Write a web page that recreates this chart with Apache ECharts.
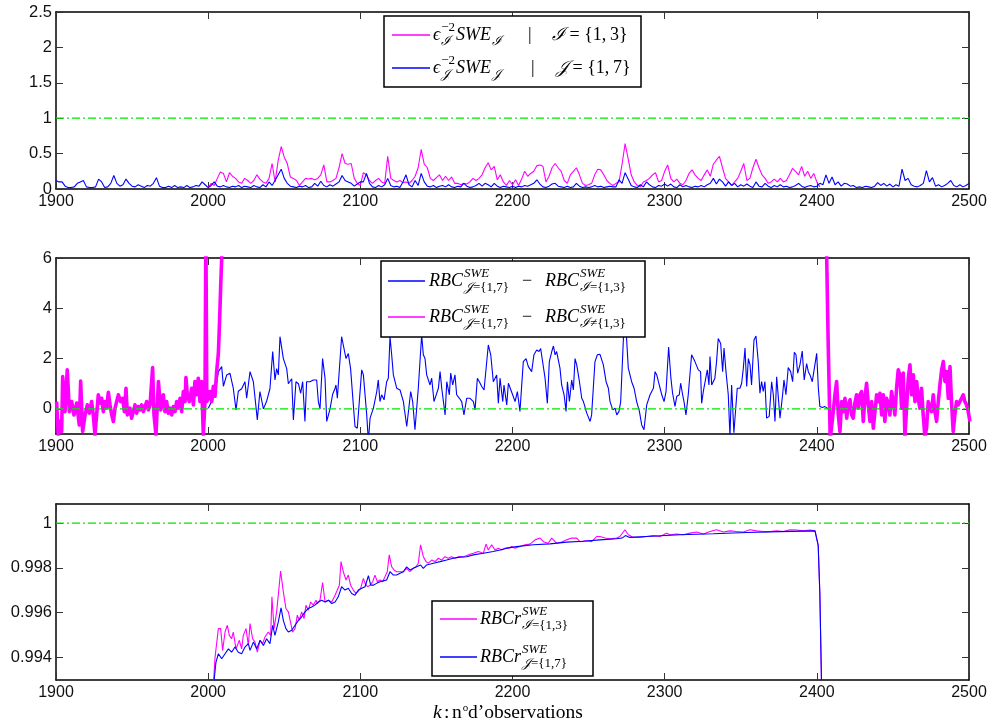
<!DOCTYPE html>
<html><head><meta charset="utf-8">
<script src="https://cdn.jsdelivr.net/npm/echarts@6/dist/echarts.min.js"></script>
<style>html,body{margin:0;padding:0;background:#fff}#c{width:995px;height:727px}</style>
</head><body><div id="c"></div>
<script>
// ---------------- data ----------------
const xMin = 1900, xMax = 2500, xStep = 100;
const topYRange = [0, 2.5], topYStep = 0.5;
const midYRange = [-1, 6], midTicks = [0, 2, 4, 6];
const botYRange = [0.993, 1.00085], botTicks = [0.994, 0.996, 0.998, 1];
const refLines = [1, 0, 1];

// top panel: observation k = start + 2*i
const topJStart = 1900, topIStart = 2000, topStep = 2;
const topJ = [
0.12,0.10,0.10,0.04,0.02,0.02,0.03,0.08,0.10,0.12,
0.03,0.02,0.02,0.03,0.14,0.10,0.02,0.03,0.08,0.19,
0.08,0.04,0.06,0.14,0.08,0.04,0.03,0.06,0.04,0.02,
0.05,0.04,0.08,0.16,0.04,0.02,0.02,0.04,0.02,0.05,
0.02,0.03,0.02,0.05,0.02,0.03,0.05,0.04,0.10,0.06,
0.02,
0.05,0.10,0.04,0.03,0.05,0.03,0.02,0.04,0.03,0.05,
0.02,0.04,0.03,0.02,0.05,0.03,0.02,0.06,0.03,0.10,
0.05,0.12,0.20,0.28,0.15,0.08,0.04,0.03,0.02,0.04,
0.03,0.05,0.02,0.03,0.08,0.04,0.11,0.05,0.03,0.06,
0.04,0.07,0.10,0.19,0.12,0.10,0.08,0.04,0.07,0.10,
0.10,0.22,0.08,0.03,0.02,0.05,0.03,0.06,0.15,0.05,
0.03,0.04,0.02,0.10,0.20,0.06,0.03,0.12,0.05,0.22,
0.10,0.04,0.03,0.05,0.02,0.04,0.05,0.03,0.06,0.03,
0.02,0.04,0.03,0.08,0.04,0.02,0.03,0.05,0.08,0.04,
0.08,0.06,0.03,0.08,0.04,0.02,0.04,0.03,0.02,0.04,
0.02,0.04,0.03,0.05,0.04,0.06,0.08,0.13,0.07,0.03,
0.02,0.04,0.07,0.08,0.04,0.03,0.02,0.04,0.02,0.03,
0.08,0.04,0.02,0.03,0.02,0.03,0.05,0.03,0.04,0.02,
0.03,0.04,0.03,0.03,0.13,0.08,0.23,0.14,0.05,0.03,
0.02,0.06,0.03,0.10,0.06,0.03,0.02,0.05,0.04,0.07,
0.04,0.07,0.03,0.02,0.06,0.03,0.05,0.03,0.02,0.04,
0.03,0.05,0.03,0.06,0.08,0.15,0.07,0.14,0.10,0.04,
0.10,0.05,0.08,0.03,0.06,0.04,0.07,0.04,0.02,0.10,
0.04,0.03,0.08,0.04,0.02,0.05,0.03,0.06,0.03,0.04,
0.02,0.03,0.05,0.08,0.04,0.02,0.04,0.05,0.03,0.04,
0.08,0.06,0.20,0.08,0.17,0.06,0.10,0.04,0.08,0.07,
0.04,0.05,0.02,0.03,0.02,0.04,0.03,0.02,0.04,0.09,
0.05,0.08,0.04,0.07,0.03,0.06,0.04,0.28,0.12,0.15,
0.06,0.04,0.03,0.05,0.08,0.26,0.10,0.16,0.04,0.06,
0.03,0.05,0.08,0.12,0.05,0.03,0.06,0.03,0.05,0.08
];
const topI = [
0.02,0.08,0.05,0.15,0.24,0.22,0.10,0.23,0.18,0.15,
0.10,0.08,0.15,0.12,0.08,0.12,0.20,0.14,0.10,0.08,
0.15,0.36,0.10,0.40,0.60,0.45,0.36,0.17,0.15,0.12,
0.05,0.10,0.15,0.14,0.15,0.13,0.15,0.20,0.34,0.10,
0.10,0.12,0.15,0.30,0.50,0.36,0.35,0.36,0.15,0.08,
0.05,0.23,0.20,0.12,0.08,0.12,0.15,0.10,0.08,0.46,
0.15,0.12,0.10,0.12,0.09,0.10,0.08,0.12,0.18,0.30,
0.56,0.35,0.30,0.15,0.12,0.16,0.20,0.12,0.18,0.12,
0.17,0.08,0.08,0.06,0.08,0.07,0.10,0.15,0.12,0.15,
0.20,0.30,0.37,0.27,0.32,0.13,0.20,0.10,0.05,0.12,
0.06,0.13,0.05,0.14,0.25,0.18,0.22,0.25,0.33,0.34,
0.32,0.10,0.18,0.30,0.36,0.30,0.25,0.12,0.08,0.20,
0.25,0.30,0.20,0.08,0.05,0.06,0.08,0.20,0.28,0.27,
0.20,0.12,0.08,0.05,0.08,0.10,0.35,0.64,0.43,0.20,
0.10,0.05,0.03,0.10,0.12,0.15,0.20,0.23,0.10,0.12,
0.25,0.34,0.15,0.10,0.14,0.08,0.06,0.12,0.22,0.27,
0.20,0.15,0.12,0.20,0.27,0.18,0.35,0.41,0.46,0.30,
0.15,0.10,0.05,0.10,0.15,0.25,0.36,0.12,0.15,0.30,
0.42,0.30,0.20,0.15,0.08,0.10,0.14,0.10,0.15,0.10,
0.12,0.20,0.29,0.25,0.20,0.32,0.18,0.25,0.15,0.22,
0.10,0.03
];

// middle panel: [k, value]
const midBlue = [[2000.1,0.02],[2002.3,0.3],[2004.5,0.55],[2006.7,1.48],[2008.9,1.68],[2010,0.9],[2012.2,1.35],[2014.3,1.42],[2016.5,0.82],[2018.3,-0.04],[2019.8,0.7],[2022,0.8],[2024.2,1.08],[2025.3,0.42],[2027.5,1.48],[2029.7,1.08],[2032.3,-0.44],[2034,0.69],[2036.3,0.0],[2038.4,0.3],[2040.6,0.8],[2042.4,2.28],[2043.9,1.15],[2045,1.6],[2046.1,1.35],[2047.2,2.87],[2049.4,2.0],[2051.6,1.6],[2052.7,1.0],[2054.9,1.2],[2056,-0.44],[2057.7,1.08],[2059.3,1.0],[2060.8,0.62],[2062.1,1.08],[2063.6,-0.5],[2064.7,1.08],[2066.9,1.08],[2069.1,1.15],[2071.3,1.15],[2072.4,0.29],[2073.5,0.0],[2075.2,2.0],[2076.8,1.22],[2077.9,-0.5],[2080.1,0.0],[2081.8,0.58],[2083.4,0.82],[2084,0.95],[2084.9,0.42],[2087.7,2.87],[2088.8,2.54],[2090.6,2.0],[2092.1,2.2],[2093.6,1.6],[2095.4,0.16],[2096.5,-0.7],[2098,-0.77],[2100.9,1.55],[2102,1.35],[2104.2,-0.24],[2105.3,-1.3],[2106.4,-0.37],[2108.6,0.03],[2110.8,0.69],[2111.8,1.15],[2112.9,0.29],[2114,0.56],[2115.6,0.36],[2117.3,1.08],[2118.4,1.22],[2119.5,2.87],[2120.6,2.15],[2121.7,1.35],[2123.9,0.82],[2125,0.89],[2126.1,0.75],[2127.2,0.82],[2128.3,0.29],[2130.5,-0.7],[2131.6,-0.64],[2133.1,0.69],[2134.4,0.29],[2135.9,-0.83],[2138.1,0.82],[2140.3,2.94],[2141.4,2.15],[2142.5,2.0],[2143.6,1.35],[2145.8,0.95],[2146.9,1.22],[2148.4,0.29],[2149.7,0.29],[2151.3,0.82],[2152.4,1.48],[2153.5,0.82],[2155.7,-0.24],[2156.8,1.08],[2158.5,0.56],[2159.4,1.42],[2160.7,0.95],[2162.2,1.35],[2163.3,0.56],[2165.1,0.42],[2166.6,0.29],[2168.1,-0.24],[2169.9,0.42],[2172.1,0.42],[2174.3,0.29],[2175.4,-0.04],[2176.9,1.22],[2178.2,1.08],[2179.8,0.89],[2181.3,0.75],[2182.4,0.82],[2184.1,2.54],[2185.7,2.15],[2187.4,1.08],[2189.6,1.35],[2190.7,0.22],[2191.8,1.22],[2193.6,0.29],[2194.4,0.95],[2196.2,0.16],[2197.3,1.02],[2198.4,0.95],[2200.1,0.56],[2201.7,0.29],[2203.2,0.69],[2204.9,-0.1],[2207.1,1.88],[2208.9,2.0],[2210.4,1.68],[2212.6,1.48],[2214.1,2.15],[2215.9,2.34],[2217.4,2.28],[2218.5,2.4],[2219.8,2.34],[2221.4,1.22],[2222.9,0.22],[2224.2,1.88],[2225.8,2.28],[2226.9,2.5],[2228,2.15],[2229,2.28],[2231.2,1.62],[2232.3,0.95],[2233.9,0.56],[2235.2,-0.1],[2236.1,1.08],[2237.4,0.29],[2238.9,1.15],[2240,0.75],[2241.1,2.0],[2242.2,1.75],[2244,1.08],[2245.5,0.42],[2246.6,0.29],[2248.8,-0.17],[2251,-0.5],[2252,-0.24],[2254.2,1.88],[2255.8,2.15],[2257.5,2.17],[2259.7,1.75],[2261.5,1.08],[2263,0.82],[2264.1,0.29],[2265.9,-0.04],[2267.4,0.03],[2268.5,-0.24],[2270,-0.1],[2271.1,0.29],[2272.9,2.81],[2274.4,3.4],[2276.1,1.62],[2278.3,1.08],[2279.9,0.82],[2281.6,0.29],[2283.4,-0.1],[2284.9,-0.64],[2286.4,-0.83],[2288.2,0.16],[2290.4,0.56],[2292.6,0.82],[2293.7,1.48],[2294.8,1.35],[2295.9,1.08],[2297,0.82],[2298.1,0.56],[2299.6,0.29],[2300.9,0.69],[2302.6,2.46],[2304.1,1.22],[2305.2,0.62],[2306.8,0.1],[2307.9,0.49],[2309.6,0.56],[2310.5,1.02],[2311.8,0.56],[2312.7,0.29],[2314,-0.24],[2315.5,0.56],[2317.7,2.15],[2319.9,1.88],[2322.1,1.55],[2323.6,1.48],[2324.3,0.22],[2325.4,0.69],[2326.5,0.75],[2328,1.55],[2329.1,0.95],[2329.8,2.08],[2330.9,0.95],[2332,0.95],[2333,1.22],[2334.1,1.88],[2335.2,2.8],[2336.8,2.6],[2338.1,1.48],[2339,2.42],[2340.3,1.48],[2341.8,0.56],[2342.9,-1.1],[2344,0.95],[2345.5,-0.95],[2347.7,0.82],[2349.5,0.82],[2350.6,1.02],[2351.7,1.62],[2352.8,2.42],[2353.9,0.89],[2355,2.0],[2356.1,1.75],[2357.1,0.95],[2358.7,2.74],[2360,2.9],[2361.5,1.88],[2362.6,0.62],[2363.7,1.08],[2364.8,0.69],[2365.9,1.08],[2367,-0.37],[2368.7,-0.3],[2370.3,1.08],[2371.4,0.56],[2372.5,-0.5],[2373.6,1.28],[2374.7,1.28],[2375.8,-0.37],[2377.5,0.56],[2378.4,1.15],[2379.7,0.56],[2381.2,1.64],[2382.8,1.48],[2384.1,1.08],[2385.2,2.25],[2386.3,2.15],[2387.4,1.42],[2388.9,1.75],[2390.4,2.3],[2391.7,1.15],[2393.3,1.8],[2394.4,1.48],[2395.5,1.35],[2397,1.08],[2398.3,1.02],[2399.9,2.21],[2401,0.82],[2402,0.09],[2403.6,0.05],[2405.3,0.09],[2407.5,0.0]];

const midMagLeft = [[1900.4,0.29],[1901.5,-1.03],[1902.6,-0.5],[1903.7,-0.9],[1904.4,1.28],[1905.9,-0.11],[1907.4,1.55],[1908.8,-0.11],[1910.3,0.29],[1911.8,-0.24],[1913.6,0.23],[1915.3,-0.64],[1916.2,1.11],[1917.5,-0.9],[1919.1,-0.24],[1920.6,0.16],[1921.9,-0.17],[1923.4,0.29],[1924.5,-0.24],[1925.6,-1.03],[1926.7,-0.24],[1927.8,0.56],[1928.9,0.23],[1930,0.42],[1931.1,-0.11],[1932.2,0.29],[1933.3,0.03],[1934.4,0.66],[1935.5,0.16],[1936.6,-0.24],[1937.7,-0.5],[1938.8,0.03],[1939.9,0.29],[1941,0.56],[1942.5,0.29],[1943.8,0.42],[1944.9,-0.11],[1946,0.82],[1946.9,-0.24],[1948.6,0.03],[1949.7,-0.37],[1950.8,-0.11],[1951.9,0.16],[1953,-0.17],[1954.1,0.09],[1955.2,-0.04],[1956.3,0.16],[1957.4,-0.11],[1958.5,0.09],[1959.6,0.29],[1960.7,-0.04],[1961.8,0.16],[1963.5,1.64],[1964.4,-0.24],[1965.7,-1.03],[1967.3,1.09],[1968.8,-0.04],[1970.5,0.56],[1971.6,-0.11],[1972.7,0.29],[1973.8,-0.17],[1974.9,0.03],[1976,-0.24],[1977.1,0.09],[1978.2,-0.11],[1979.3,0.29],[1980.4,0.03],[1981.5,0.42],[1982.6,-0.11],[1983.7,0.69],[1984.8,0.29],[1985.4,1.25],[1986.3,0.56],[1987.6,0.29],[1989.2,0.82],[1990.3,0.16],[1991.3,1.09],[1992.4,0.56],[1993.5,1.22],[1994.6,0.29],[1995.7,1.09],[1996.8,-1.03],[1997.9,0.29],[1998.5,7],[1999.1,0.29],[2000.1,0.42],[2001.2,0.69],[2002.3,0.29],[2003.4,0.9],[2004.5,0.5],[2005.6,1.5],[2006.7,2.2],[2007.5,3.5],[2008.3,5.0],[2009.2,6.5]];

const midMagRight = [[2406.2,7],[2407.5,2.5],[2408.8,-1.2],[2410.8,-0.11],[2411.9,0.56],[2413,1.09],[2414.1,-0.24],[2415.2,-0.9],[2416.3,0.29],[2417.4,-0.11],[2418.5,0.42],[2419.6,-0.37],[2420.7,0.16],[2421.8,0.36],[2422.9,-0.24],[2423.9,-0.37],[2425,0.23],[2426.1,0.56],[2427.2,0.03],[2428.3,0.56],[2429.4,0.69],[2430.5,-0.5],[2431.6,0.42],[2432.7,1.02],[2433.8,0.16],[2434.9,-0.5],[2436,0.29],[2437.1,-0.77],[2438.2,-0.11],[2439.3,0.56],[2440.4,0.29],[2441.5,0.62],[2442.6,-0.24],[2443.7,0.56],[2444.7,-0.5],[2445.8,0.42],[2446.9,0.23],[2448,-0.24],[2449.1,0.69],[2450.2,0.29],[2451.3,-0.24],[2452.4,0.82],[2453.5,1.55],[2454.6,1.35],[2455.7,0.03],[2456.8,1.42],[2457.9,-1.1],[2459,-1.03],[2460.1,1.22],[2461.2,1.75],[2462.3,0.56],[2463.4,1.35],[2464.5,0.29],[2465.6,1.09],[2466.6,0.42],[2467.7,0.03],[2468.8,0.82],[2469.9,-0.24],[2471,-1.1],[2472.1,-0.77],[2473.2,0.29],[2474.3,0.03],[2475.4,-0.11],[2476.5,0.56],[2477.6,-0.11],[2478.7,-0.5],[2479.8,0.29],[2480.9,0.95],[2482,1.55],[2483.1,1.88],[2484.2,1.09],[2485.3,1.48],[2486.4,0.42],[2487.5,1.68],[2488.5,0.29],[2489.6,-0.9],[2490.7,-0.24],[2491.8,0.29],[2492.9,0.16],[2494,0.29],[2495.1,0.42],[2496.2,0.56],[2497.3,0.29],[2498.4,0.16],[2499.5,-0.11],[2500.6,-0.5]];

// bottom panel: [k, value]
const botI = [[2003.2,0.9925],[2004.5,0.9940],[2006.7,0.99529],[2008.2,0.99529],[2009.5,0.99432],[2011.1,0.99514],[2012.6,0.99544],[2013.9,0.99499],[2015.4,0.99484],[2016.5,0.99514],[2018.3,0.99439],[2020.5,0.99477],[2022,0.99439],[2023.1,0.99499],[2024.9,0.99529],[2026.4,0.99454],[2027.5,0.99552],[2029.2,0.99484],[2030.8,0.99469],[2032.3,0.99424],[2034.1,0.99477],[2035.8,0.99462],[2037.3,0.99491],[2039.5,0.99514],[2041.1,0.99499],[2041.9,0.99671],[2043.3,0.99529],[2045,0.99604],[2046.3,0.99693],[2047.6,0.99786],[2049.4,0.99693],[2051.1,0.99619],[2052.7,0.99604],[2053.8,0.99611],[2055.5,0.99514],[2057.1,0.99529],[2058.6,0.99589],[2059.9,0.99566],[2061.4,0.99604],[2063,0.99574],[2064.3,0.99634],[2065.8,0.99611],[2067.4,0.99648],[2069.1,0.99634],[2070.9,0.99656],[2071.7,0.99641],[2073.5,0.99656],[2075.2,0.99735],[2076.8,0.99648],[2079,0.99656],[2081.2,0.99648],[2083.4,0.99678],[2084.4,0.99686],[2086.2,0.99723],[2087.3,0.99828],[2088.8,0.99783],[2090.6,0.99746],[2092.1,0.99768],[2093.6,0.99723],[2095.4,0.99701],[2097.1,0.99686],[2098.7,0.99697],[2100.2,0.99709],[2102,0.99753],[2103.1,0.99731],[2104.8,0.99716],[2106.3,0.99723],[2108.1,0.99738],[2109.6,0.99768],[2111.2,0.99738],[2112.9,0.99746],[2114.7,0.99738],[2116.2,0.99761],[2117.7,0.99783],[2119,0.99858],[2120.6,0.99805],[2122.1,0.99791],[2123.9,0.99783],[2126.1,0.99783],[2128.3,0.99783],[2130.4,0.99798],[2132.6,0.99783],[2134.8,0.99798],[2136.6,0.99805],[2138.1,0.99821],[2139.6,0.99903],[2141.4,0.9985],[2143.2,0.99828],[2144.7,0.99821],[2146.9,0.99835],[2149.1,0.99828],[2151.3,0.99843],[2153.4,0.99835],[2155.6,0.9985],[2157.8,0.99843],[2160,0.9985],[2162.2,0.99843],[2164.4,0.9985],[2167.7,0.9985],[2171,0.99858],[2174.3,0.99865],[2177.5,0.99873],[2180.8,0.99865],[2182.6,0.99906],[2184.1,0.9988],[2186.3,0.99903],[2188.5,0.9988],[2190.7,0.99888],[2192.9,0.9988],[2195.1,0.99888],[2197.3,0.99888],[2199.5,0.99895],[2201.6,0.99888],[2204.9,0.99895],[2208.2,0.99903],[2211.5,0.99906],[2214.8,0.99925],[2218.1,0.99933],[2220.3,0.99917],[2223.5,0.9991],[2225.7,0.99933],[2229,0.9991],[2232.3,0.99915],[2235.6,0.99925],[2238.9,0.99933],[2242.2,0.99933],[2244.4,0.99917],[2248.7,0.99921],[2252,0.99917],[2255.3,0.9994],[2257.5,0.9994],[2260.8,0.99933],[2264.1,0.9993],[2268.4,0.99933],[2270.6,0.9994],[2273.9,0.9997],[2276.1,0.99948],[2279.4,0.99936],[2283.7,0.99936],[2288.1,0.9994],[2292.5,0.99944],[2296.9,0.9994],[2301.3,0.99955],[2303.5,0.99948],[2307.8,0.99951],[2312.2,0.99948],[2316.6,0.99955],[2321,0.9996],[2325.4,0.99951],[2329.8,0.99962],[2334.1,0.9997],[2338.5,0.9996],[2342.9,0.99965],[2347.3,0.99962],[2351.7,0.9996],[2356,0.9997],[2360.4,0.99965],[2364.8,0.99962],[2369.2,0.99962],[2373.6,0.99965],[2378,0.99962],[2382.3,0.9997],[2386.7,0.99969],[2391.1,0.99965],[2395.5,0.99969],[2398.8,0.99965],[2400.9,0.9990],[2402,0.9968],[2403.3,0.9920]];

const botJ = [[2003.2,0.9925],[2005.1,0.99379],[2006.7,0.99417],[2008.9,0.99395],[2011.1,0.99417],[2013.3,0.99439],[2015.4,0.99424],[2017.6,0.99447],[2019.8,0.99424],[2022,0.99417],[2024.2,0.99447],[2026.4,0.99462],[2027.5,0.99432],[2029.7,0.99469],[2031.9,0.99439],[2034.1,0.99477],[2036.3,0.99454],[2038.4,0.99484],[2040.6,0.99462],[2042.4,0.99544],[2043.9,0.99499],[2046.1,0.99559],[2047.9,0.99622],[2049.4,0.99566],[2051.1,0.99529],[2052.7,0.99514],[2054.9,0.99522],[2057.1,0.99544],[2059.3,0.99566],[2061.4,0.99581],[2063.6,0.99604],[2065.8,0.99619],[2068,0.99626],[2070.2,0.99634],[2072.4,0.99648],[2074.6,0.99656],[2076.8,0.99648],[2079,0.99656],[2081.2,0.99641],[2083.4,0.99648],[2085.5,0.99671],[2087.7,0.99716],[2089.9,0.99701],[2092.1,0.99709],[2094.3,0.99686],[2096.5,0.99678],[2098.7,0.99701],[2100.9,0.99709],[2103.1,0.99716],[2105.3,0.99765],[2106.8,0.99723],[2108.5,0.99723],[2110.7,0.99731],[2112.9,0.99738],[2115.1,0.99742],[2117.3,0.99746],[2119.5,0.99783],[2121.7,0.99768],[2123.9,0.99768],[2126.1,0.99776],[2128.3,0.99783],[2130.4,0.99805],[2132.6,0.99791],[2134.8,0.99798],[2137,0.99805],[2139.6,0.99813],[2141.4,0.99798],[2143.6,0.99813],[2148,0.99821],[2152.4,0.99828],[2156.7,0.99835],[2161.1,0.99843],[2165.5,0.99848],[2169.9,0.9985],[2174.3,0.99858],[2180.8,0.99865],[2187.4,0.99873],[2191.8,0.9988],[2196.2,0.99888],[2202.7,0.99895],[2213.7,0.99903],[2224.6,0.99907],[2235.6,0.99915],[2246.5,0.99919],[2257.5,0.99925],[2268.4,0.9993],[2272,0.99933],[2274.2,0.99944],[2277,0.99936],[2288.1,0.9994],[2310,0.99948],[2332,0.99952],[2353.9,0.99958],[2375.8,0.99962],[2398.8,0.99965],[2400.9,0.9990],[2402,0.9968],[2403.3,0.9920]];

// ---------------- chart ----------------
const MAG = '#ff00ff', BLUE = '#0000ff', GREEN = '#00e600';
const SANS = '"Liberation Sans", Arial, sans-serif';
const SERIF = '"Liberation Serif","DejaVu Serif",serif';

function stepPairs(start, step, vals) { return vals.map((v, i) => [start + step * i, v]); }

const grids = [
  {left: 56, right: 26, top: 12, height: 177},
  {left: 56, right: 26, top: 258, height: 176},
  {left: 56, right: 26, top: 504, height: 176}
];
grids.forEach(g => { g.outerBoundsMode = 'none'; g.containLabel = false; });

const axisLine = {show: true, onZero: false, lineStyle: {color: '#000', width: 1.5}};
const tick = (extra) => Object.assign({show: true, inside: true, length: 7, lineStyle: {color: '#333', width: 1}}, extra || {});
const plain = v => String(+v.toFixed(6));
const lab = (show, extra) => Object.assign({show: show, fontFamily: SANS, fontSize: 16, color: '#111', formatter: plain}, extra || {});

const xAxes = [], yAxes = [];
[0, 1, 2].forEach(gi => {
  xAxes.push({type: 'value', gridIndex: gi, position: 'bottom', min: xMin, max: xMax, interval: xStep,
    axisLine, axisTick: tick(), axisLabel: lab(true, {margin: 5}), splitLine: {show: false}});
  xAxes.push({type: 'value', gridIndex: gi, position: 'top', min: xMin, max: xMax, interval: xStep,
    axisLine, axisTick: tick(), axisLabel: lab(false), splitLine: {show: false}});
});
function yPair(gi, range, step, ticks) {
  ['left', 'right'].forEach(pos => {
    const ax = {type: 'value', gridIndex: gi, position: pos, min: range[0], max: range[1],
      axisLine, splitLine: {show: false}};
    if (step) { ax.interval = step; ax.axisTick = tick(); ax.axisLabel = lab(pos === 'left', {margin: 4, fontSize: 16.5}); }
    else {
      ax.axisTick = tick({customValues: ticks});
      ax.axisLabel = lab(pos === 'left', {margin: 4, fontSize: 16.5, customValues: ticks});
    }
    yAxes.push(ax);
  });
}
yPair(0, topYRange, topYStep);
yPair(1, midYRange, null, midTicks);
yPair(2, botYRange, null, botTicks);

function line(name, xi, data, color, w, extra) {
  return Object.assign({type: 'line', name, xAxisIndex: xi, yAxisIndex: xi, data, showSymbol: false,
    symbol: 'none', silent: true, animation: false, clip: true,
    lineStyle: {color, width: w}, itemStyle: {color}}, extra || {});
}
function refSeries(xi, v) {
  return line('ref', xi, [[xMin, v], [xMax, v]], GREEN, 1.2,
    {lineStyle: {color: GREEN, width: 1.2, type: [8, 3, 2, 3]}, z: 5});
}

const series = [
  line('I top', 0, stepPairs(topIStart, topStep, topI), MAG, 1.1),
  line('J top', 0, stepPairs(topJStart, topStep, topJ), BLUE, 1.1),
  refSeries(0, refLines[0]),
  line('mid blue', 2, midBlue, BLUE, 1.1),
  line('mid mag L', 2, midMagLeft, MAG, 3.6, {lineStyle: {color: MAG, width: 3.6, join: 'round'}}),
  line('mid mag R', 2, midMagRight, MAG, 3.6, {lineStyle: {color: MAG, width: 3.6, join: 'round'}}),
  refSeries(2, refLines[1]),
  line('bot I', 4, botI, MAG, 1.1),
  line('bot J', 4, botJ, BLUE, 1.1),
  refSeries(4, refLines[2])
];

// ---------- math legends (graphic) ----------
const mctx = document.createElement('canvas').getContext('2d');
function fnt(sz, it) { return (it ? 'italic ' : '') + sz + 'px ' + SERIF; }
function tw(t, f) { mctx.font = f; return mctx.measureText(t).width; }
function putRuns(out, list, sz, x, y) {
  let cx = x;
  list.forEach(r => {
    const f = fnt(sz, r[1]);
    out.push({type: 'text', x: cx, y: y, z: 101, silent: true,
      style: {text: r[0], font: f, fill: '#000', align: 'left', verticalAlign: 'middle'}});
    cx += tw(r[0], f);
  });
  return cx - x;
}
function mathRow(out, x, y, atoms, big, small, dSup, dSub) {
  let cx = x;
  atoms.forEach(a => {
    if (a.to !== undefined) { cx = a.to; return; }
    const w = putRuns(out, a.n, big, cx, y);
    let w2 = 0;
    if (a.sup) w2 = Math.max(w2, putRuns(out, a.sup, small, cx + w + 1, y - dSup));
    if (a.sub) w2 = Math.max(w2, putRuns(out, a.sub, small, cx + w + 1, y + dSub));
    cx += w + (w2 ? w2 + 2 : 0);
  });
}
function legendBox(out, box, lx1, lx2, tx, rows) {
  out.push({type: 'rect', z: 100, silent: true, shape: {x: box[0], y: box[1], width: box[2], height: box[3]},
    style: {fill: '#fff', stroke: '#000', lineWidth: 1.5}});
  rows.forEach(r => {
    out.push({type: 'line', z: 101, silent: true, shape: {x1: lx1, y1: r.y, x2: lx2, y2: r.y},
      style: {stroke: r.color, lineWidth: 1.5}});
    mathRow(out, tx, r.y, r.atoms, 18, 13, r.dSup || 7, r.dSub || 7);
  });
}
const CI = '\u2110', CJ = '\uD835\uDCA5';
const g = [];
legendBox(g, [384, 16, 257, 71], 392, 430, 433, [
  {y: 35, color: MAG, dSup: 7, atoms: [{n: [['\u03F5', 1]], sup: [['\u22122', 0]], sub: [[CI, 1]]},
    {n: [['SWE', 1]], sub: [[CI, 1]]}, {to: 528}, {n: [['|', 0]]}, {to: 552}, {n: [[CI, 1], [' = {1,\u20093}', 0]]}]},
  {y: 68, color: BLUE, dSup: 7, atoms: [{n: [['\u03F5', 1]], sup: [['\u22122', 0]], sub: [[CJ, 1]]},
    {n: [['SWE', 1]], sub: [[CJ, 1]]}, {to: 531}, {n: [['|', 0]]}, {to: 556}, {n: [[CJ, 1], [' = {1,\u20097}', 0]]}]}
]);
legendBox(g, [381, 261, 264, 76], 388, 425, 429, [
  {y: 281, color: BLUE, atoms: [{n: [['RBC', 1]], sup: [['SWE', 1]], sub: [[CJ, 1], ['={1,7}', 0]]},
    {to: 522}, {n: [['\u2212', 0]]}, {to: 545}, {n: [['RBC', 1]], sup: [['SWE', 1]], sub: [[CI, 1], ['={1,3}', 0]]}]},
  {y: 317, color: MAG, atoms: [{n: [['RBC', 1]], sup: [['SWE', 1]], sub: [[CJ, 1], ['={1,7}', 0]]},
    {to: 522}, {n: [['\u2212', 0]]}, {to: 545}, {n: [['RBC', 1]], sup: [['SWE', 1]], sub: [[CI, 1], ['\u2260{1,3}', 0]]}]}
]);
legendBox(g, [432, 601, 161, 75], 440, 477, 480, [
  {y: 619, color: MAG, atoms: [{n: [['RBCr', 1]], sup: [['SWE', 1]], sub: [[CI, 1], ['={1,3}', 0]]}]},
  {y: 657, color: BLUE, atoms: [{n: [['RBCr', 1]], sup: [['SWE', 1]], sub: [[CJ, 1], ['={1,7}', 0]]}]}
]);
// x axis title of the last panel
mathRow(g, 433, 713, [{n: [['k', 1]]}, {to: 444}, {n: [[':', 0]]}, {to: 452}, {n: [['n', 0]], sup: [['o', 0]]},
  {to: 468}, {n: [['d\u2019observations', 0]]}], 19.5, 11, 5, 5);

const chart = echarts.init(document.getElementById('c'), null, {renderer: 'canvas'});
chart.setOption({
  animation: false,
  backgroundColor: '#fff',
  textStyle: {fontFamily: SANS},
  grid: grids,
  xAxis: xAxes,
  yAxis: yAxes,
  series: series,
  graphic: {elements: g}
});
</script></body></html>
